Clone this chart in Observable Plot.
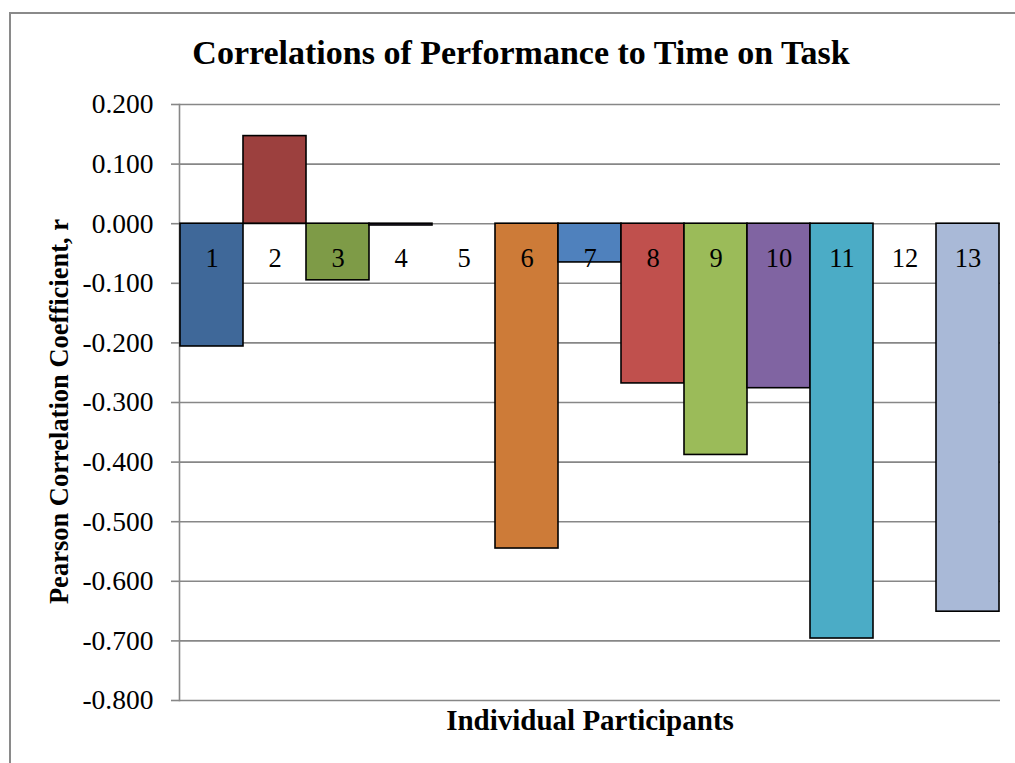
<!DOCTYPE html>
<html>
<head>
<meta charset="utf-8">
<script src="https://cdn.jsdelivr.net/npm/d3@7"></script>
<script src="https://cdn.jsdelivr.net/npm/@observablehq/plot@0.6"></script>
<style>
  html, body { margin: 0; padding: 0; background: #fff; }
  #wrap { position: relative; width: 1015px; height: 763px; overflow: hidden; }
  #border { position: absolute; left: 9px; top: 12px; width: 1040px; height: 800px; border: 2px solid #8a8a8a; box-sizing: border-box; }
  #chart { position: absolute; left: 0; top: 0; }
</style>
</head>
<body>
<div id="wrap"><div id="border"></div><div id="chart"></div></div>
<script>
const participants = ["1","2","3","4","5","6","7","8","9","10","11","12","13"];
const correlations = [-0.206, 0.147, -0.095, -0.003, null, -0.545, -0.065, -0.268, -0.388, -0.276, -0.696, null, -0.651];
const barColors = ["#3F6899","#9C403E","#7E9B47","#664F86","#3D8CA4","#CD7B38","#4F81BD","#C0504D","#9BBB59","#8064A2","#4BACC6","#F79646","#A9B9D7"];
const yTicks = [0.2, 0.1, 0, -0.1, -0.2, -0.3, -0.4, -0.5, -0.6, -0.7, -0.8];
const titleText = "Correlations of Performance to Time on Task";
const yLabel = "Pearson Correlation Coefficient, r";
const xLabel = "Individual Participants";

const data = participants.map((p, i) => ({p, r: correlations[i]}));
const serif = "'Liberation Serif', 'DejaVu Serif', serif";

const chart = Plot.plot({
  width: 1015,
  height: 763,
  marginLeft: 179,
  marginRight: 15,
  marginTop: 104,
  marginBottom: 63,
  style: {fontFamily: serif, background: "transparent"},
  x: {domain: participants, padding: 0, axis: null},
  y: {domain: [-0.8, 0.2], axis: null},
  color: {domain: participants, range: barColors},
  marks: [
    Plot.gridY(yTicks, {stroke: "#878787", strokeOpacity: 1, strokeWidth: 1.6}),
    Plot.axisY(yTicks, {tickSize: 8, tickPadding: 18, stroke: "#878787", strokeWidth: 1.6,
      tickFormat: d => d.toFixed(3), fontSize: 27.5, fill: "#000", label: null}),
    Plot.frame({anchor: "left", stroke: "#878787", strokeWidth: 1.6}),
    Plot.barY(data.filter(d => d.r != null), {x: "p", y: "r", fill: "p", stroke: "#000", strokeWidth: 1.6}),
    Plot.text(data, {x: "p", y: () => 0, text: "p", dy: 35, fontSize: 26.5, fill: "#000"}),
    Plot.text([titleText], {frameAnchor: "top", lineAnchor: "middle", dx: -69, dy: -51, fontSize: 34, fontWeight: "bold", fill: "#000"}),
    Plot.text([yLabel], {frameAnchor: "left", textAnchor: "middle", lineAnchor: "middle", rotate: -90, dx: -120, dy: 9, fontSize: 26.5, fontWeight: "bold", fill: "#000"}),
    Plot.text([xLabel], {frameAnchor: "bottom", lineAnchor: "middle", dy: 20, fontSize: 29, fontWeight: "bold", fill: "#000"})
  ]
});
document.getElementById("chart").appendChild(chart);
</script>
</body>
</html>
